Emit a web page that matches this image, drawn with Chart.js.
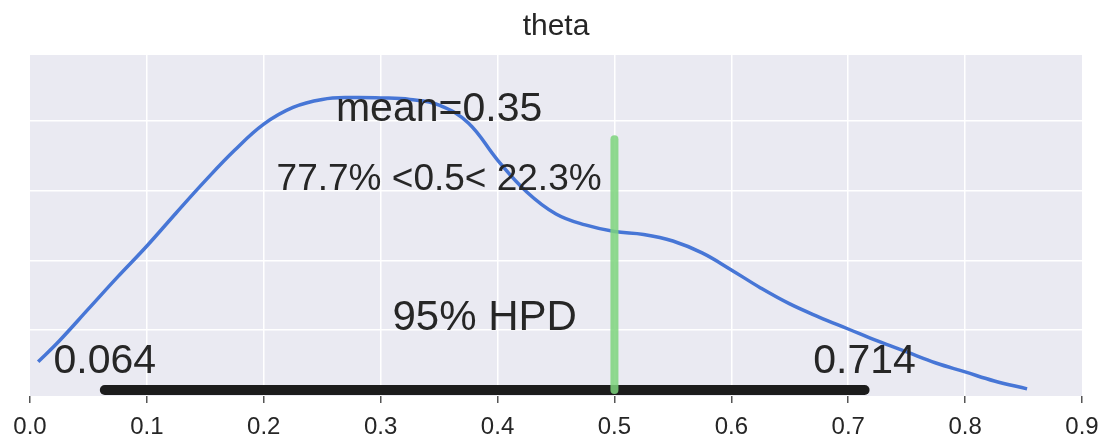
<!DOCTYPE html>
<html>
<head>
<meta charset="utf-8">
<script src="https://cdn.jsdelivr.net/npm/chart.js@4.4.1/dist/chart.umd.min.js"></script>
<style>
  html, body { margin: 0; padding: 0; background: #fff; }
  #wrap { width: 1105px; height: 441px; }
</style>
</head>
<body>
<div id="wrap"><canvas id="chart"></canvas></div>
<script>
// posterior density of theta
const thetaGrid = [0.007, 0.025, 0.05, 0.075, 0.1, 0.125, 0.15, 0.175, 0.2, 0.225, 0.25, 0.275, 0.3, 0.325,
  0.35, 0.375, 0.4, 0.425, 0.45, 0.475, 0.5, 0.525, 0.55, 0.575, 0.6, 0.625, 0.65, 0.675, 0.7, 0.725,
  0.75, 0.775, 0.8, 0.825, 0.853];
const density = [0.272, 0.421, 0.651, 0.881, 1.103, 1.340, 1.572, 1.790, 1.978, 2.098, 2.155, 2.169, 2.166, 2.155,
  2.115, 1.986, 1.720, 1.491, 1.333, 1.254, 1.207, 1.186, 1.139, 1.053, 0.931, 0.802, 0.687, 0.593, 0.507, 0.421,
  0.342, 0.263, 0.199, 0.134, 0.077];

const hpd = [0.064, 0.714];
const hpdLevel = 0.069;
const refValue = 0.5;
const refTop = 1.87;
const meanValue = 0.35;

const xTicks = [0, 0.1, 0.2, 0.3, 0.4, 0.5, 0.6, 0.7, 0.8, 0.9];
const yGrid = [0.5, 1.0, 1.5, 2.0];

// text labels placed in data units
const notes = [
  { text: 'mean=0.35', x: meanValue, y: 2.0, size: 41 },
  { text: '77.7% <0.5< 22.3%', x: meanValue, y: 1.505, size: 37 },
  { text: '95% HPD', x: (hpd[0] + hpd[1]) / 2, y: 0.5, size: 42 },
  { text: '0.064', x: hpd[0], y: 0.191, size: 41 },
  { text: '0.714', x: hpd[1], y: 0.191, size: 41 },
];

const FONT = "'Liberation Sans', Arial, sans-serif";
const TEXT = '#262626';

const bgPlugin = {
  id: 'bg',
  beforeDraw(chart) {
    const { ctx, chartArea: a } = chart;
    ctx.save();
    ctx.fillStyle = '#eaeaf2';
    ctx.fillRect(a.left, a.top, a.right - a.left, a.bottom - a.top);
    ctx.restore();
  },
};

const notesPlugin = {
  id: 'notes',
  afterDatasetsDraw(chart) {
    const { ctx } = chart;
    const xs = chart.scales.x;
    const ys = chart.scales.y;
    ctx.save();
    ctx.fillStyle = TEXT;
    ctx.textAlign = 'center';
    ctx.textBaseline = 'alphabetic';
    notes.forEach((n) => {
      ctx.font = `${n.size}px ${FONT}`;
      ctx.fillText(n.text, xs.getPixelForValue(n.x), ys.getPixelForValue(n.y));
    });
    ctx.restore();
  },
};

const config = {
  type: 'line',
  data: {
    datasets: [
      {
        label: 'ref',
        data: [{ x: refValue, y: hpdLevel }, { x: refValue, y: refTop }],
        borderColor: 'rgba(125, 212, 125, 0.85)',
        borderWidth: 8,
        borderCapStyle: 'round',
        pointRadius: 0,
        order: 0,
      },
      {
        label: 'hpd',
        data: [{ x: hpd[0], y: hpdLevel }, { x: hpd[1], y: hpdLevel }],
        borderColor: '#1c1c1c',
        borderWidth: 10,
        borderCapStyle: 'round',
        pointRadius: 0,
        order: 1,
      },
      {
        label: 'theta',
        data: thetaGrid.map((t, i) => ({ x: t, y: density[i] })),
        borderColor: '#4776d6',
        borderWidth: 3.5,
        tension: 0.4,
        pointRadius: 0,
        order: 2,
      },
    ],
  },
  options: {
    responsive: true,
    maintainAspectRatio: false,
    animation: false,
    layout: { padding: { left: 30, right: 23, top: 0, bottom: 0 } },
    plugins: {
      legend: { display: false },
      tooltip: { enabled: false },
      title: {
        display: true,
        text: 'theta',
        color: TEXT,
        font: { family: FONT, size: 30, weight: 'normal' },
        padding: { top: 9, bottom: 10 },
      },
    },
    scales: {
      x: {
        type: 'linear',
        min: 0,
        max: 0.9,
        afterBuildTicks: (s) => { s.ticks = xTicks.map((v) => ({ value: v })); },
        afterFit: (s) => { s.height = 45; s.paddingLeft = 0; s.paddingRight = 0; },
        border: { display: false },
        grid: {
          color: (c) => (c.tick && (c.tick.value === 0 || c.tick.value === 0.9) ? 'rgba(0,0,0,0)' : '#ffffff'),
          lineWidth: 1.5,
          tickColor: '#555555',
          tickLength: 7,
          tickWidth: 1.5,
        },
        ticks: {
          color: TEXT,
          padding: 10,
          maxRotation: 0,
          font: { family: FONT, size: 24 },
          callback: (v) => Number(v).toFixed(1),
        },
      },
      y: {
        min: 0.026,
        max: 2.474,
        afterBuildTicks: (s) => { s.ticks = yGrid.map((v) => ({ value: v })); },
        afterFit: (s) => { s.width = 0; },
        border: { display: false },
        grid: { color: '#ffffff', lineWidth: 1.5, drawTicks: false },
        ticks: { display: false },
      },
    },
  },
  plugins: [bgPlugin, notesPlugin],
};

new Chart(document.getElementById('chart'), config);
</script>
</body>
</html>
